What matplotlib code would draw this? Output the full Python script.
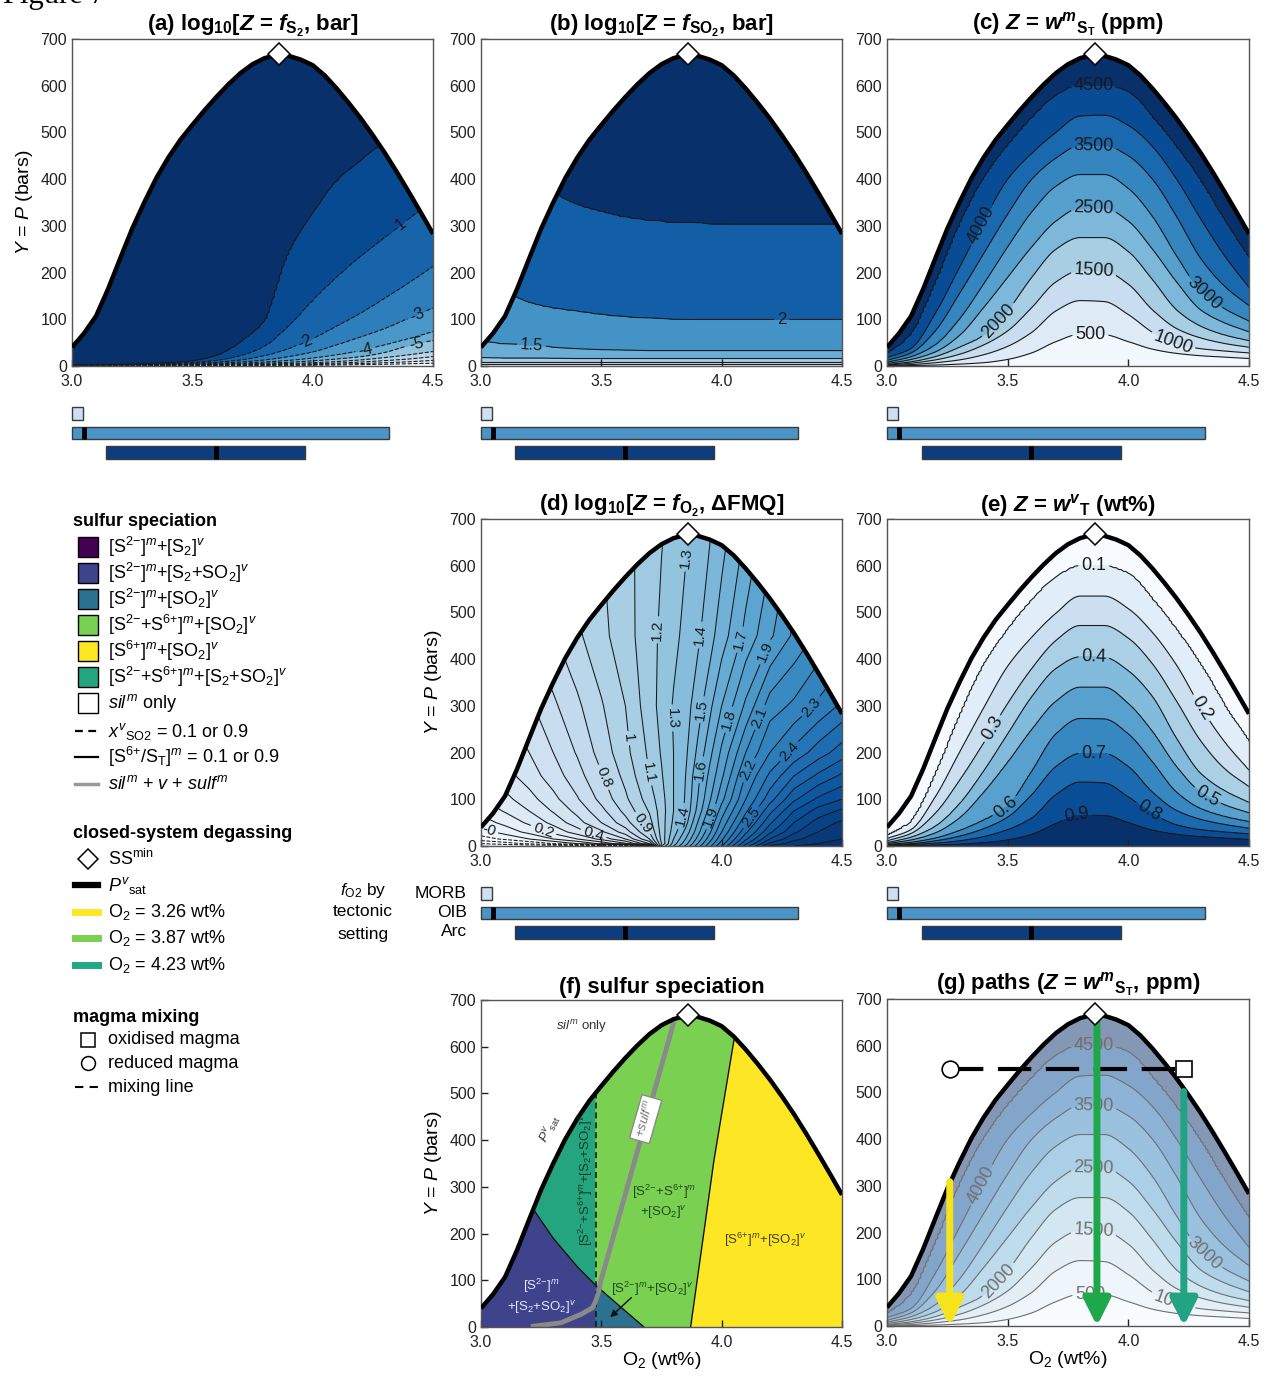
import numpy as np
import matplotlib
matplotlib.use("Agg")
import matplotlib.pyplot as plt
from matplotlib.colors import Normalize
from matplotlib.patches import Rectangle

plt.rcParams["font.family"] = ["Liberation Sans", "DejaVu Sans"]
plt.rcParams["mathtext.fontset"] = "custom"
plt.rcParams["mathtext.rm"] = "Liberation Sans"
plt.rcParams["mathtext.it"] = "Liberation Sans:italic"
plt.rcParams["mathtext.bf"] = "Liberation Sans:bold"
HAS_BFIT = "mathtext.bfit" in plt.rcParams
if HAS_BFIT:
    plt.rcParams["mathtext.bfit"] = "Liberation Sans:bold:italic"
BI = r"\mathbfit" if HAS_BFIT else r"\mathbf"

# ---------------- values ----------------
# vapour saturation pressure (thick black curve)
psat_o2 = [3.00, 3.05, 3.10, 3.15, 3.20, 3.25, 3.30, 3.35, 3.40, 3.45, 3.50,
           3.55, 3.60, 3.65, 3.70, 3.75, 3.80, 3.85, 3.90, 3.95, 4.00, 4.05,
           4.10, 4.15, 4.20, 4.25, 4.30, 4.35, 4.40, 4.45, 4.50]
psat_p = [40, 70, 107, 165, 230, 294, 350, 402, 446, 484, 516,
          547, 576, 603, 627, 646, 659, 666, 664, 656, 644, 622,
          594, 563, 530, 494, 456, 415, 372, 328, 283]
ss_min = (3.86, 667)

# O2 columns at which the contour positions were read
o2_cols = [3.0, 3.1, 3.2, 3.3, 3.4, 3.5, 3.6, 3.7, 3.8, 3.9, 4.0, 4.1, 4.2, 4.3, 4.4, 4.5]

# (a) log10 fS2: pressure (bar) of each contour in every column
fs2_levels = [-9, -8, -7, -6, -5, -4, -3, -2, -1, 0]
fs2_p = [
    [0.1, 0.2, 0.3, 0.35, 0.45, 0.55, 0.7, 0.9, 1.1, 1.4, 1.7, 2.2, 2.9, 3.8, 4.8, 6],
    [0.2, 0.35, 0.5, 0.6, 0.8, 1.0, 1.3, 1.6, 2.0, 2.5, 3.1, 4, 5.3, 7, 9, 12],
    [0.3, 0.5, 0.7, 0.9, 1.2, 1.5, 1.9, 2.4, 3.1, 3.9, 4.8, 6.2, 8.5, 11.5, 15, 20],
    [0.4, 0.6, 0.9, 1.2, 1.6, 2.0, 2.6, 3.4, 4.4, 5.5, 7, 9.5, 13, 18, 24, 31],
    [0.5, 0.8, 1.1, 1.5, 2.0, 2.6, 3.4, 4.5, 6, 8, 11, 15, 20, 29, 44, 55],
    [0.6, 1.0, 1.4, 1.9, 2.5, 3.3, 4.4, 6, 8.5, 12, 17, 24, 33, 45, 58, 73],
    [0.8, 1.3, 1.8, 2.4, 3.2, 4.2, 5.8, 8.5, 13, 20, 30, 45, 62, 80, 102, 124],
    [1, 1.6, 2.2, 3, 4, 5.5, 8, 13, 22, 37, 58, 85, 113, 145, 178, 213],
    [1.2, 2, 2.8, 3.8, 5.2, 7.5, 12, 22, 42, 85, 140, 190, 235, 275, 315, 355],
    [1.5, 2.5, 3.5, 5, 7, 11, 22, 50, 95, 240, 325, 395, 440, 480, 520, 560],
]

# (b) log10 fSO2
fso2_levels = [0.0, 0.5, 1.0, 1.5, 2.0, 2.5]
fso2_p = [
    [4, 4, 4, 4, 4, 4, 4, 4, 4, 4, 4, 4, 4, 4, 4, 4],
    [9, 9, 9, 9, 9, 9, 9, 9, 9, 9, 9, 9, 9, 9, 9, 9],
    [18, 17, 17, 16.5, 16, 16, 16, 16, 16, 16, 16, 16, 16, 16, 16, 16],
    [52, 47, 44, 40, 37, 35, 34, 33, 33, 33, 33, 33, 33, 33, 33, 33],
    [190, 160, 136, 124, 117, 110, 105, 102, 100, 99, 99, 99, 99, 99, 99, 99],
    [560, 480, 420, 372, 345, 330, 318, 311, 307, 305, 303, 302, 302, 302, 302, 302],
]

# (c) and (g) sulfur in the melt, ppm
wst_levels = [500, 1000, 1500, 2000, 2500, 3000, 3500, 4000, 4500]
wst_p = [
    [0.3, 1, 2, 4, 7, 14, 28, 52, 68, 67, 52, 36, 27, 22, 19, 16],
    [1, 3, 7, 13, 24, 42, 72, 118, 140, 138, 110, 72, 47, 37, 32, 28],
    [2, 6, 13, 25, 45, 75, 125, 180, 204, 203, 175, 120, 80, 60, 48, 40],
    [3, 9, 20, 40, 65, 118, 190, 250, 275, 275, 245, 185, 120, 85, 66, 54],
    [5, 14, 30, 65, 125, 190, 255, 310, 338, 338, 310, 250, 180, 120, 92, 73],
    [8, 20, 45, 100, 175, 255, 330, 385, 410, 410, 380, 320, 235, 160, 122, 96],
    [12, 28, 75, 155, 240, 325, 400, 445, 472, 472, 450, 400, 320, 230, 170, 129],
    [18, 37, 112, 210, 310, 400, 455, 500, 535, 537, 515, 470, 400, 315, 235, 168],
    [25, 67, 175, 300, 400, 471, 530, 578, 600, 600, 586, 532, 468, 395, 309, 229],
]

# (e) vapour mass fraction, wt% (listed from deep to shallow contour)
wvt_levels = [0.9, 0.8, 0.7, 0.6, 0.5, 0.4, 0.3, 0.2, 0.1]
wvt_p = [
    [0.3, 1, 2, 4, 7, 13, 25, 48, 66, 65, 50, 34, 25, 20, 17, 14],
    [1, 3, 6, 11, 20, 35, 60, 110, 137, 135, 105, 70, 45, 35, 30, 26],
    [2, 5, 11, 21, 37, 62, 110, 170, 198, 198, 170, 115, 76, 57, 46, 38],
    [3, 8, 17, 33, 55, 85, 160, 240, 273, 272, 240, 180, 115, 80, 63, 52],
    [5, 13, 28, 60, 115, 180, 250, 310, 340, 340, 305, 245, 170, 115, 88, 71],
    [7, 19, 42, 90, 160, 240, 320, 380, 405, 404, 375, 320, 230, 155, 118, 93],
    [11, 27, 70, 140, 220, 305, 380, 440, 472, 472, 445, 390, 310, 225, 165, 127],
    [16, 35, 105, 200, 295, 385, 447, 498, 535, 535, 508, 457, 387, 297, 222, 162],
    [22, 52, 150, 275, 385, 462, 525, 575, 598, 598, 583, 528, 462, 388, 300, 222],
]

# (d) log10 fO2 (delta FMQ) on a grid
fmq_o2 = [3.0, 3.1, 3.2, 3.3, 3.4, 3.5, 3.6, 3.7, 3.75, 3.8, 3.85, 3.9, 4.0, 4.1, 4.2, 4.3, 4.4, 4.5]
fmq_p = [0, 5, 15, 30, 50, 75, 100, 150, 200, 300, 450, 700]
fmq = [
    [-0.4, -0.4, -0.4, -0.4, -0.4, -0.4, -0.4, 0.0, 1.2, 1.5, 1.72, 1.95, 2.4, 2.85, 3.22, 3.3, 3.33, 3.35],
    [-0.3, -0.25, -0.18, -0.1, 0.0, 0.12, 0.28, 0.6, 1.1, 1.45, 1.66, 1.9, 2.35, 2.78, 3.12, 3.25, 3.3, 3.33],
    [-0.15, -0.08, 0.0, 0.1, 0.2, 0.33, 0.5, 0.8, 1.13, 1.4, 1.6, 1.83, 2.28, 2.68, 3.0, 3.17, 3.26, 3.3],
    [-0.04, 0.04, 0.13, 0.23, 0.35, 0.48, 0.65, 0.9, 1.14, 1.35, 1.53, 1.76, 2.2, 2.58, 2.88, 3.08, 3.2, 3.27],
    [0.05, 0.13, 0.22, 0.33, 0.46, 0.6, 0.76, 0.96, 1.15, 1.32, 1.46, 1.7, 2.13, 2.48, 2.78, 3.0, 3.14, 3.22],
    [0.13, 0.21, 0.3, 0.41, 0.53, 0.67, 0.83, 1.01, 1.15, 1.3, 1.42, 1.63, 2.05, 2.38, 2.67, 2.9, 3.04, 3.12],
    [0.19, 0.27, 0.36, 0.47, 0.59, 0.73, 0.88, 1.05, 1.16, 1.3, 1.41, 1.6, 1.97, 2.3, 2.56, 2.78, 2.92, 3.0],
    [0.28, 0.36, 0.45, 0.55, 0.66, 0.79, 0.93, 1.1, 1.19, 1.3, 1.4, 1.57, 1.88, 2.21, 2.42, 2.6, 2.72, 2.82],
    [0.35, 0.42, 0.5, 0.6, 0.71, 0.84, 0.97, 1.12, 1.21, 1.3, 1.38, 1.52, 1.82, 2.1, 2.3, 2.43, 2.55, 2.65],
    [0.44, 0.5, 0.58, 0.68, 0.78, 0.89, 1.0, 1.16, 1.23, 1.31, 1.36, 1.45, 1.7, 1.92, 2.15, 2.22, 2.32, 2.42],
    [0.5, 0.6, 0.7, 0.79, 0.88, 0.97, 1.06, 1.16, 1.22, 1.27, 1.33, 1.38, 1.55, 1.73, 1.88, 2.02, 2.12, 2.2],
    [0.58, 0.66, 0.75, 0.84, 0.92, 1.0, 1.07, 1.15, 1.19, 1.23, 1.28, 1.32, 1.45, 1.6, 1.75, 1.9, 2.0, 2.1],
]

# (f) speciation field boundaries
s2_vap_o2 = [3.22, 3.30, 3.40, 3.477]        # S2+SO2 vapour / sulfate-bearing melt
s2_vap_p = [250, 190, 129, 89]
so2_vap_o2 = [3.477, 3.58, 3.677]            # S2+SO2 / SO2 vapour
so2_vap_p = [89, 43, 0]
s6_melt_o2 = [3.871, 3.968, 4.051]           # S2- + S6+ / S6+ melt
s6_melt_p = [0, 357, 614]
xso2_o2 = 3.477                              # x_SO2 = 0.9 (dashed)
sulf_o2 = [3.207, 3.332, 3.415, 3.463, 3.477, 3.49, 3.498, 3.60, 3.70, 3.802]
sulf_p = [1, 9, 27, 41, 56, 77, 99, 285, 468, 654]

# (g) degassing paths and mixing
path_o2 = [3.26, 3.87, 4.23]
path_top = [309, 652, 502]
path_colors = ["#f6e31c", "#1fa84a", "#22a383"]
mix_o2 = [3.26, 4.23]          # reduced, oxidised magma
mix_p = 550

# fO2 ranges by tectonic setting, drawn on the O2 axis
settings = ["MORB", "OIB", "Arc"]
set_lo = [3.0, 3.0, 3.143]
set_hi = [3.045, 4.317, 3.97]
set_mid = [np.nan, 3.05, 3.597]
set_colors = ["#cddff0", "#4a94c8", "#0b3d7f"]

spec_labels = [
    r"[S$^{2{-}}$]$^{m}$+[S$_{2}$]$^{v}$",
    r"[S$^{2{-}}$]$^{m}$+[S$_{2}$+SO$_{2}$]$^{v}$",
    r"[S$^{2{-}}$]$^{m}$+[SO$_{2}$]$^{v}$",
    r"[S$^{2{-}}$+S$^{6{+}}$]$^{m}$+[SO$_{2}$]$^{v}$",
    r"[S$^{6{+}}$]$^{m}$+[SO$_{2}$]$^{v}$",
    r"[S$^{2{-}}$+S$^{6{+}}$]$^{m}$+[S$_{2}$+SO$_{2}$]$^{v}$",
    r"$sil^{m}$ only",
]
spec_colors = ["#440154", "#3e438b", "#2b7190", "#7ad151", "#fde725", "#25a57f", "#ffffff"]

# ---------------- helpers ----------------
W, H = 1270, 1378
fig = plt.figure(figsize=(W / 100, H / 100), dpi=100)
P_GRID = np.concatenate([np.arange(0, 40, 0.5), np.arange(40, 741, 4.0)])
X_FINE = np.linspace(3.0, 4.5, 151)


def px_axes(left, top, right, bottom):
    return fig.add_axes([left / W, 1 - bottom / H, (right - left) / W, (bottom - top) / H])


def pchip(x, y, xn):
    # shape-preserving cubic through the read contour positions
    x, y = np.asarray(x, float), np.asarray(y, float)
    h = np.diff(x)
    delta = np.diff(y) / h
    d = np.zeros_like(y)
    for k in range(1, len(x) - 1):
        if delta[k - 1] * delta[k] > 0:
            w1, w2 = 2 * h[k] + h[k - 1], h[k] + 2 * h[k - 1]
            d[k] = (w1 + w2) / (w1 / delta[k - 1] + w2 / delta[k])
    d[0], d[-1] = delta[0], delta[-1]
    i = np.clip(np.searchsorted(x, xn) - 1, 0, len(x) - 2)
    t = (xn - x[i]) / h[i]
    return ((2 * t**3 - 3 * t**2 + 1) * y[i] + (t**3 - 2 * t**2 + t) * h[i] * d[i]
            + (-2 * t**3 + 3 * t**2) * y[i + 1] + (t**3 - t**2) * h[i] * d[i + 1])


def column_field(table, levels, z_bottom, z_top):
    pos = np.array([pchip(o2_cols, row, X_FINE) for row in table])
    pos = np.maximum(pos, 0.02)
    pos = np.maximum.accumulate(pos + 1e-4 * np.arange(len(levels))[:, None], axis=0)
    z = np.empty((len(P_GRID), len(X_FINE)))
    for j in range(len(X_FINE)):
        z[:, j] = np.interp(P_GRID, np.r_[0.0, pos[:, j], 2000.0],
                            np.r_[z_bottom, levels, z_top])
    return z


def style(ax, ylabel=False, xlabel=False):
    ax.set_xlim(3.0, 4.5)
    ax.set_ylim(0, 700)
    ax.set_xticks([3.0, 3.5, 4.0, 4.5], labels=["3.0", "3.5", "4.0", "4.5"])
    ax.set_yticks(range(0, 701, 100))
    ax.tick_params(direction="in", length=5, width=1, labelsize=11.5, colors="#222222")
    ax.tick_params(axis="x", pad=6)
    for s in ax.spines.values():
        s.set_color("#555555")
        s.set_linewidth(1)
    if ylabel:
        ax.set_ylabel(r"$Y$ = $P$ (bars)", fontsize=14, labelpad=4)
    if xlabel:
        ax.set_xlabel(r"O$_2$ (wt%)", fontsize=14, labelpad=0)


def finish(ax, mask=True):
    if mask:
        ax.fill_between(psat_o2, psat_p, 760, color="white", lw=0, zorder=2.2)
    ax.plot(psat_o2, psat_p, color="black", lw=3.2, zorder=3, solid_capstyle="butt")
    ax.plot([ss_min[0]], [ss_min[1]], marker="D", ms=11.5, mfc="white", mec="black",
            mew=1.1, zorder=8, clip_on=False)


def lines(ax, x, y, z, levels, spots, size, color="#1a1a1a", lw=0.8):
    # one contour set per level so each label lands on its own line
    for lev in levels:
        cs = ax.contour(x, y, z, levels=[lev], colors=color, linewidths=lw, zorder=2)
        pts = [(px, py) for l, px, py in spots if abs(l - lev) < 1e-9]
        if pts and len(cs.allsegs[0]) > 0:
            cs.clabel(manual=pts, inline=True, fontsize=size, fmt="%g", inline_spacing=3,
                      colors=color)


def title(ax, text):
    ax.set_title(text.replace("BI", BI), fontsize=16, fontweight="bold", pad=5)


def bars(ax):
    for i in range(len(settings)):
        ax.barh(i + 0.5, set_hi[i] - set_lo[i], left=set_lo[i], height=0.65,
                color=set_colors[i], edgecolor="#3a3a3a", lw=1, clip_on=False)
        if not np.isnan(set_mid[i]):
            ax.vlines(set_mid[i], i + 0.5 - 0.32, i + 0.5 + 0.32, color="black", lw=3.5)
    ax.set_xlim(3.0, 4.5)
    ax.set_ylim(3, 0)
    ax.axis("off")


blues = plt.cm.Blues

# overlay for legend and loose text
ax0 = fig.add_axes([0, 0, 1, 1])
ax0.set_xlim(0, W)
ax0.set_ylim(H, 0)
ax0.axis("off")

fig.text(3 / W, 1 - 3 / H, "Figure 7", family="Liberation Serif", fontsize=22, va="baseline")

# ---------------- (a) ----------------
ax = px_axes(72, 39, 433, 366)
style(ax, ylabel=True)
za = column_field(fs2_p, fs2_levels, -10, 1)
ax.contourf(X_FINE, P_GRID, za, levels=list(range(-10, 2)),
            colors=blues(np.linspace(0.0, 1.0, 11)), zorder=1)
lines(ax, X_FINE, P_GRID, za, fs2_levels,
      [(-1, 4.36, 299), (-2, 3.97, 52), (-3, 4.43, 113), (-4, 4.22, 34), (-5, 4.43, 49)], 12)
finish(ax)
title(ax, r"(a) log$_{\mathbf{10}}$[$BI{Z}$ = $BI{f}_{\mathbf{S_2}}$, bar]")

# ---------------- (b) ----------------
ax = px_axes(481, 39, 842, 366)
style(ax)
zb = column_field(fso2_p, fso2_levels, -0.5, 3.0)
ax.contourf(X_FINE, P_GRID, zb, levels=[-0.5, 0.0, 0.5, 1.0, 1.5, 2.0, 2.5, 3.0],
            colors=blues([0.05, 0.2, 0.35, 0.5, 0.62, 0.82, 1.0]), zorder=1)
lines(ax, X_FINE, P_GRID, zb, fso2_levels, [(1.5, 3.21, 41), (2.0, 4.25, 99)], 12)
finish(ax)
title(ax, r"(b) log$_{\mathbf{10}}$[$BI{Z}$ = $BI{f}_{\mathbf{SO_2}}$, bar]")

# ---------------- (c) ----------------
c_spots = [(4500, 3.857, 603), (3500, 3.857, 475), (2500, 3.857, 342), (1500, 3.857, 206),
           (500, 3.843, 70), (4000, 3.39, 302), (2000, 3.468, 95), (3000, 4.315, 156),
           (1000, 4.183, 49)]
c_colors = blues(np.linspace(0.02, 1.0, 10))
zc = column_field(wst_p, wst_levels, 0, 5000)
edges_c = list(range(0, 5001, 500))

ax = px_axes(887, 39, 1249, 366)
style(ax)
ax.contourf(X_FINE, P_GRID, zc, levels=edges_c, colors=c_colors, zorder=1)
lines(ax, X_FINE, P_GRID, zc, wst_levels, c_spots, 13)
finish(ax)
title(ax, r"(c) $BI{Z}$ = $BI{w}^{BI{m}}{}_{\mathbf{S_T}}$ (ppm)")

# tectonic setting bars, first row
for left, right in [(72, 433), (481, 842), (887, 1249)]:
    bars(px_axes(left, 404, right, 462))

# ---------------- (d) ----------------
ax = px_axes(481, 519, 842, 846)
style(ax, ylabel=True)
d_edges = np.round(np.arange(-0.5, 3.41, 0.1), 1)
ax.contourf(fmq_o2, fmq_p, fmq, levels=d_edges, cmap="Blues",
            norm=Normalize(vmin=-0.2, vmax=3.4), zorder=1)
lines(ax, fmq_o2, fmq_p, fmq, list(d_edges[1:-1]),
      [(1.3, 3.86, 616), (1.2, 3.728, 463), (1.4, 3.901, 452), (1.7, 4.081, 441),
       (1.9, 4.192, 413), (1.5, 3.929, 291), (1.3, 3.79, 274), (1.8, 4.033, 270),
       (2.1, 4.185, 270), (2.3, 4.386, 291), (1.0, 3.617, 231), (2.4, 4.282, 202),
       (1.6, 3.915, 163), (2.2, 4.109, 163), (0.8, 3.499, 145), (1.1, 3.714, 159),
       (0.9, 3.69, 56), (1.4, 3.84, 63), (1.9, 3.954, 63), (2.5, 4.12, 63),
       (0.0, 3.035, 38), (0.2, 3.263, 38), (0.4, 3.471, 34)], 11, lw=0.75)
finish(ax)
title(ax, r"(d) log$_{\mathbf{10}}$[$BI{Z}$ = $BI{f}_{\mathbf{O_2}}$, ΔFMQ]")

# ---------------- (e) ----------------
ax = px_axes(887, 519, 1249, 846)
style(ax)
ze = column_field(wvt_p, wvt_levels, 1.0, 0.0)
ax.contourf(X_FINE, P_GRID, ze, levels=list(np.round(np.arange(0, 1.01, 0.1), 1)),
            colors=blues(np.linspace(0.0, 1.0, 10)), zorder=1)
lines(ax, X_FINE, P_GRID, ze, wvt_levels,
      [(0.1, 3.857, 598), (0.4, 3.857, 404), (0.7, 3.857, 199), (0.3, 3.442, 250),
       (0.6, 3.497, 80), (0.9, 3.788, 58), (0.2, 4.30, 295), (0.5, 4.33, 110),
       (0.8, 4.086, 75)], 13)
finish(ax)
title(ax, r"(e) $BI{Z}$ = $BI{w}^{BI{v}}{}_{\mathbf{T}}$ (wt%)")

# tectonic setting bars, second row
for left, right in [(481, 842), (887, 1249)]:
    bars(px_axes(left, 884, right, 942))
for i, name in enumerate(settings):
    ax0.text(467, 893 + 19.5 * i, name, fontsize=12.5, ha="right", va="center")
ax0.text(363, 890, r"$f_{\mathrm{O2}}$ by", fontsize=12.5, ha="center", va="center")
ax0.text(363, 912, "tectonic", fontsize=12.5, ha="center", va="center")
ax0.text(363, 934, "setting", fontsize=12.5, ha="center", va="center")

# ---------------- (f) ----------------
ax = px_axes(481, 1000, 842, 1327)
style(ax, ylabel=True, xlabel=True)


def psat_at(x):
    return float(np.interp(x, psat_o2, psat_p))


def psat_path(x0, x1):
    xs = [x0] + [x for x in psat_o2 if x0 < x < x1] + [x1]
    return [(x, psat_at(x)) for x in xs]


l1 = list(zip(s2_vap_o2, s2_vap_p))
l2 = list(zip(so2_vap_o2, so2_vap_p))
l3 = list(zip(s6_melt_o2, s6_melt_p))
regions = [
    ([(3.0, 0.0)] + psat_path(3.0, l1[0][0]) + l1 + [(xso2_o2, 0.0)], spec_colors[1]),
    (l1[::-1] + psat_path(l1[0][0], xso2_o2), spec_colors[5]),
    ([(xso2_o2, 0.0)] + l2, spec_colors[2]),
    (psat_path(xso2_o2, l3[-1][0]) + l3[::-1] + l2[::-1], spec_colors[3]),
    (l3 + psat_path(l3[-1][0], 4.5) + [(4.5, 0.0)], spec_colors[4]),
]
for poly, col in regions:
    xs, ys = zip(*poly)
    ax.fill(xs, ys, color=col, lw=0.6, ec=col, zorder=1)
ax.plot(s2_vap_o2 + so2_vap_o2[1:], s2_vap_p + so2_vap_p[1:], color="#111111", lw=1, zorder=2)
ax.plot(s6_melt_o2, s6_melt_p, color="#111111", lw=1, zorder=2)
ax.plot([xso2_o2, xso2_o2], [0, psat_at(xso2_o2)], color="#111111", lw=1.1,
        dashes=(4, 2.5), zorder=2)
ax.plot(sulf_o2, sulf_p, color="#8a8a8a", lw=3.5, zorder=2.5, solid_capstyle="butt")
ax.text(3.684, 445, r"+$sulf^{m}$", rotation=74, ha="center", va="center", fontsize=9.5,
        color="#777777", zorder=4,
        bbox=dict(boxstyle="square,pad=0.25", fc="white", ec="#8a8a8a", lw=1))
ax.text(3.42, 644, r"$sil^{m}$ only", ha="center", va="center", fontsize=9.5, color="#333333")
ax.text(3.29, 424, r"$P^{v}{}_{\mathrm{sat}}$", rotation=62, ha="center", va="center",
        fontsize=9.5, color="#333333")
ax.text(3.437, 314, spec_labels[5], rotation=90, ha="center", va="center", fontsize=9.5,
        color="#123d22", zorder=4)
ax.text(3.76, 268, r"[S$^{2{-}}$+S$^{6{+}}$]$^{m}$" + "\n" + r"+[SO$_{2}$]$^{v}$", ha="center",
        va="center", fontsize=9.5, color="#1d4a17", linespacing=1.3)
ax.text(4.18, 186, spec_labels[4], ha="center", va="center", fontsize=9.5, color="#4a3f00")
ax.text(3.25, 66, r"[S$^{2{-}}$]$^{m}$" + "\n" + r"+[S$_{2}$+SO$_{2}$]$^{v}$", ha="center",
        va="center", fontsize=9.5, color="#e6e6ff", linespacing=1.3)
ax.text(3.71, 82, spec_labels[2], ha="center", va="center", fontsize=9.5, color="#1d4a17")
ax.annotate("", xy=(3.537, 21), xytext=(3.625, 63),
            arrowprops=dict(arrowstyle="-|>", color="#111111", lw=1, mutation_scale=10,
                            shrinkA=0, shrinkB=0))
finish(ax, mask=False)
title(ax, "(f) sulfur speciation")

# ---------------- (g) ----------------
ax = px_axes(887, 999, 1249, 1326)
style(ax, xlabel=True)
g_colors = c_colors.copy()
g_colors[:, :3] = 0.5 * c_colors[:, :3] + 0.5
ax.contourf(X_FINE, P_GRID, zc, levels=edges_c, colors=g_colors, zorder=1)
lines(ax, X_FINE, P_GRID, zc, wst_levels, c_spots, 13, color="#707070")
finish(ax)
ax.plot(mix_o2, [mix_p, mix_p], color="black", lw=3, dashes=(8, 3.5), zorder=5)
for x0, p0, col in zip(path_o2, path_top, path_colors):
    ax.annotate("", xy=(x0, 0), xytext=(x0, p0), zorder=6,
                arrowprops=dict(arrowstyle="-|>,head_length=0.8,head_width=0.4", color=col,
                                lw=5, mutation_scale=20, shrinkA=0, shrinkB=0))
ax.plot([mix_o2[0]], [mix_p], marker="o", ms=12, mfc="white", mec="black", mew=1.2,
        zorder=7, clip_on=False)
ax.plot([mix_o2[1]], [mix_p], marker="s", ms=12, mfc="white", mec="black", mew=1.2,
        zorder=7, clip_on=False)
title(ax, r"(g) paths ($BI{Z}$ = $BI{w}^{BI{m}}{}_{\mathbf{S_T}}$, ppm)")

# ---------------- legend ----------------
LX, TX, FS = 73, 108, 13
ax0.text(LX, 522, "sulfur speciation", fontsize=FS, fontweight="bold", va="center")
for i, (lab, col) in enumerate(zip(spec_labels, spec_colors)):
    y = 547 + 26 * i
    ax0.add_patch(Rectangle((78, y - 10), 20, 20, fc=col, ec="black", lw=1))
    ax0.text(TX, y, lab, fontsize=FS, va="center")
ax0.plot([75, 98], [731, 731], color="black", lw=1.6, dashes=(3.5, 2.5))
ax0.text(TX, 731, r"$x^{v}{}_{\mathrm{SO2}}$ = 0.1 or 0.9", fontsize=FS, va="center")
ax0.plot([75, 98], [757, 757], color="black", lw=1.6)
ax0.text(TX, 757, r"[S$^{6{+}}$/S$_{\mathrm{T}}$]$^{m}$ = 0.1 or 0.9", fontsize=FS, va="center")
ax0.plot([75, 98], [784, 784], color="#999999", lw=2.5)
ax0.text(TX, 784, r"$sil^{m}$ + $v$ + $sulf^{m}$", fontsize=FS, va="center")

ax0.text(LX, 833, "closed-system degassing", fontsize=FS, fontweight="bold", va="center")
ax0.plot([88], [859], marker="D", ms=10, mfc="white", mec="black", mew=1.1)
ax0.text(TX, 859, r"SS$^{\mathrm{min}}$", fontsize=FS, va="center")
ax0.plot([75, 98], [885, 885], color="black", lw=4.5)
ax0.text(TX, 885, r"$P^{v}{}_{\mathrm{sat}}$", fontsize=FS, va="center")
for y, o2, col in zip([912, 938, 965], ["3.26", "3.87", "4.23"],
                      ["#fde725", "#7ad151", "#22a884"]):
    ax0.plot([75, 98], [y, y], color=col, lw=5)
    ax0.text(TX, y, r"O$_2$ = " + o2 + " wt%", fontsize=FS, va="center")

ax0.text(LX, 1018, "magma mixing", fontsize=FS, fontweight="bold", va="center")
ax0.plot([88], [1040], marker="s", ms=10, mfc="white", mec="black", mew=1.1)
ax0.text(TX, 1040, "oxidised magma", fontsize=FS, va="center")
ax0.plot([88], [1063], marker="o", ms=10, mfc="white", mec="black", mew=1.1)
ax0.text(TX, 1063, "reduced magma", fontsize=FS, va="center")
ax0.plot([75, 98], [1087, 1087], color="black", lw=1.5, dashes=(4, 3))
ax0.text(TX, 1087, "mixing line", fontsize=FS, va="center")

fig.savefig("out.png", dpi=100)
